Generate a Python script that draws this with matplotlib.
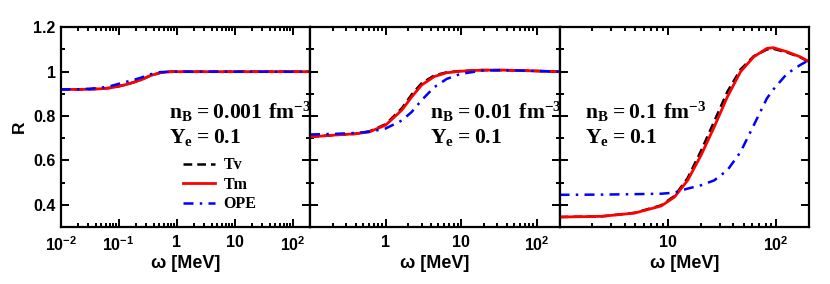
import numpy as np
import matplotlib.pyplot as plt
from matplotlib.ticker import FixedLocator, FixedFormatter, LogLocator, MultipleLocator, NullFormatter

plt.rcParams['font.family'] = 'Liberation Sans'
plt.rcParams['font.weight'] = 'bold'
plt.rcParams['axes.labelweight'] = 'bold'
plt.rcParams['mathtext.fontset'] = 'custom'
plt.rcParams['mathtext.rm'] = 'Liberation Sans:bold'
plt.rcParams['mathtext.bf'] = 'Liberation Serif:bold'
plt.rcParams['mathtext.default'] = 'rm'

# panel 1: nB = 0.001 fm^-3
w1 = [0.01, 0.02, 0.032, 0.05, 0.072, 0.1, 0.139, 0.18, 0.237, 0.35, 0.52, 0.79, 1.2, 3, 10, 30, 100, 200]
tv1 = [0.92, 0.92, 0.921, 0.923, 0.927, 0.934, 0.943, 0.952, 0.962, 0.982, 0.995, 1.0, 1.0, 1.0, 1.0, 1.0, 1.0, 1.0]
tm1 = [0.92, 0.92, 0.921, 0.923, 0.927, 0.934, 0.943, 0.952, 0.962, 0.982, 0.995, 1.0, 1.0, 1.0, 1.0, 1.0, 1.0, 1.0]
ope1 = [0.92, 0.921, 0.923, 0.928, 0.935, 0.945, 0.955, 0.963, 0.972, 0.988, 0.998, 1.0, 1.0, 1.0, 1.0, 1.0, 1.0, 1.0]

# panel 2: nB = 0.01 fm^-3
w2 = [0.1, 0.224, 0.4, 0.61, 1.0, 1.64, 2.22, 3.0, 4.4, 6.4, 9.8, 18.9, 36, 80, 200]
tv2 = [0.706, 0.715, 0.72, 0.731, 0.763, 0.835, 0.898, 0.948, 0.983, 0.997, 1.003, 1.007, 1.007, 1.004, 1.0]
tm2 = [0.706, 0.715, 0.72, 0.729, 0.759, 0.827, 0.887, 0.94, 0.978, 0.995, 1.002, 1.007, 1.007, 1.004, 1.0]
ope2 = [0.717, 0.72, 0.724, 0.729, 0.744, 0.78, 0.819, 0.872, 0.93, 0.967, 0.99, 1.005, 1.007, 1.004, 1.0]

# panel 3: nB = 0.1 fm^-3
w3 = [1.0, 2.45, 4.95, 8.7, 11.5, 15.2, 20.2, 26.7, 35.4, 46.8, 62, 82, 94, 125, 166, 200]
tv3 = [0.345, 0.348, 0.364, 0.398, 0.44, 0.52, 0.643, 0.775, 0.91, 1.01, 1.07, 1.1, 1.103, 1.087, 1.065, 1.045]
tm3 = [0.345, 0.348, 0.363, 0.395, 0.435, 0.51, 0.623, 0.75, 0.887, 1.0, 1.067, 1.105, 1.108, 1.09, 1.067, 1.045]
ope3 = [0.445, 0.446, 0.448, 0.45, 0.455, 0.473, 0.488, 0.51, 0.556, 0.638, 0.759, 0.88, 0.92, 0.99, 1.03, 1.052]

panels = [
    (w1, tv1, tm1, ope1, (0.01, 200), [0.01, 0.1, 1, 10, 100],
     ['$10^{-2}$', '$10^{-1}$', '1', '10', '$10^{2}$'], r'$\mathbf{n_B = 0.001\ fm^{-3}}$'),
    (w2, tv2, tm2, ope2, (0.1, 200), [1, 10, 100],
     ['1', '10', '$10^{2}$'], r'$\mathbf{n_B = 0.01\ fm^{-3}}$'),
    (w3, tv3, tm3, ope3, (1, 200), [10, 100],
     ['10', '$10^{2}$'], r'$\mathbf{n_B = 0.1\ fm^{-3}}$'),
]
text_x = [0.434, 0.48, 0.104]

fig = plt.figure(figsize=(8.3, 2.84), dpi=100)
left, bottom, width, height = 0.0731, 0.2007, 0.3005, 0.7032

for i, (w, tv, tm, ope, xlim, ticks, labels, title) in enumerate(panels):
    ax = fig.add_axes([left + i * width, bottom, width, height])
    ax.plot(w, tv, color='black', linestyle=(0, (3.5, 2)), linewidth=1.8, label='Tv')
    ax.plot(w, tm, color='red', linestyle='-', linewidth=2.0, label='Tm')
    ax.plot(w, ope, color='blue', linestyle=(0, (4, 2.5, 1, 2.5)), linewidth=1.8, label='OPE')
    ax.set_xscale('log')
    ax.set_xlim(*xlim)
    ax.set_ylim(0.3, 1.2)
    ax.xaxis.set_major_locator(FixedLocator(ticks))
    ax.xaxis.set_major_formatter(FixedFormatter(labels))
    ax.xaxis.set_minor_locator(LogLocator(base=10, subs=np.arange(2, 10), numticks=20))
    ax.xaxis.set_minor_formatter(NullFormatter())
    ax.yaxis.set_major_locator(MultipleLocator(0.2))
    ax.yaxis.set_minor_locator(MultipleLocator(0.1))
    ax.tick_params(which='both', direction='in', top=True, right=True, width=1.4, labelsize=11.5)
    ax.tick_params(which='major', length=6)
    ax.tick_params(which='minor', length=3)
    ax.tick_params(axis='x', pad=6)
    for s in ax.spines.values():
        s.set_linewidth(1.6)
    if i == 0:
        ax.set_yticklabels(['', '0.4', '0.6', '0.8', '1', '1.2'])
        ax.set_ylabel('R', fontsize=12.5, labelpad=5)
        ax.legend(loc='upper left', bbox_to_anchor=(0.49, 0.35), frameon=False,
                  borderpad=0, borderaxespad=0,
                  handlelength=2.0, handletextpad=0.55, labelspacing=0.22,
                  prop={'family': 'Liberation Serif', 'weight': 'bold', 'size': 11.5})
    else:
        ax.set_yticklabels([])
    ax.set_xlabel('ω [MeV]', fontsize=13, labelpad=1)
    ax.text(text_x[i], 0.54, title, transform=ax.transAxes, fontsize=15.5)
    ax.text(text_x[i], 0.42, r'$\mathbf{Y_e = 0.1}$', transform=ax.transAxes, fontsize=15.5)

fig.savefig('out.png', dpi=100)
